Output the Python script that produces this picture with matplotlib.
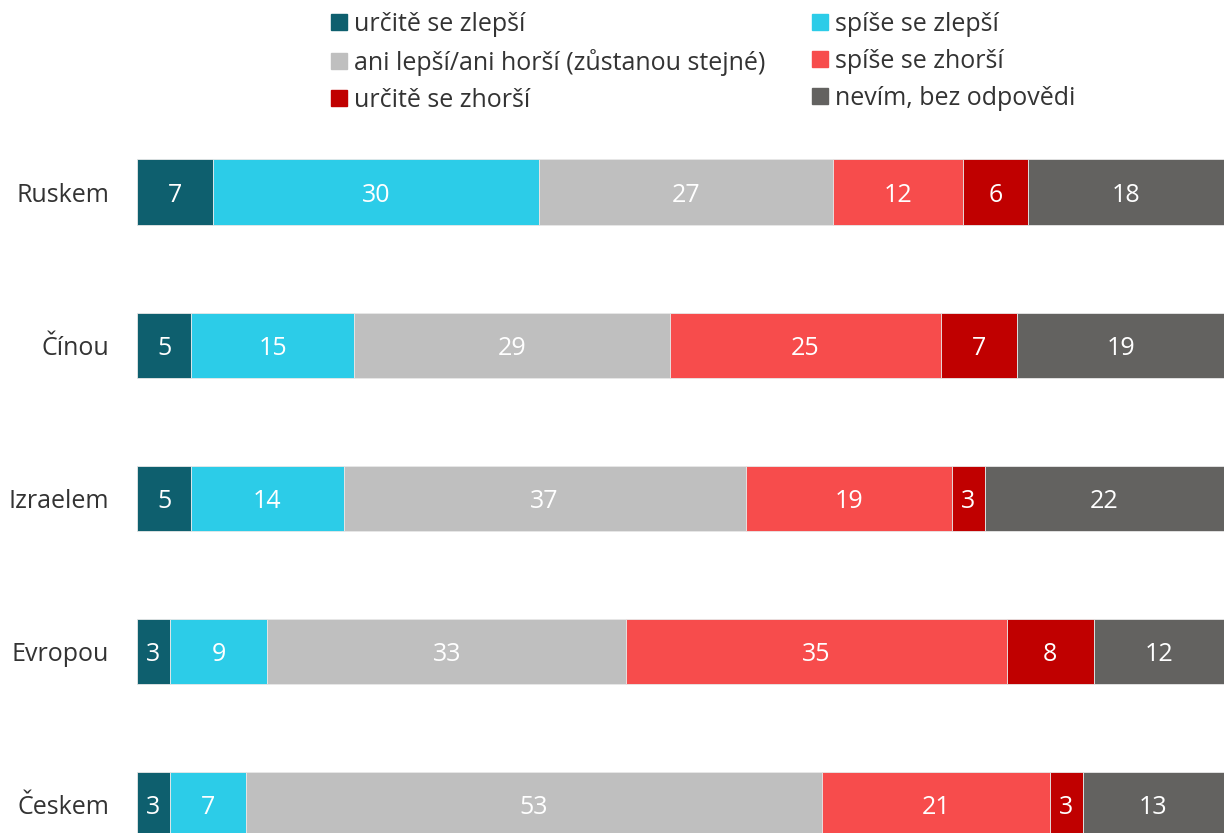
import matplotlib.pyplot as plt
import matplotlib.patches as mpatches
import numpy as np

plt.rcParams['font.family'] = ['Open Sans', 'DejaVu Sans']

# Data
zeme = ['Ruskem', 'Čínou', 'Izraelem', 'Evropou', 'Českem']
kategorie = ['určitě se zlepší', 'spíše se zlepší', 'ani lepší/ani horší (zůstanou stejné)',
             'spíše se zhorší', 'určitě se zhorší', 'nevím, bez odpovědi']
urcite_zlepsi = [7, 5, 5, 3, 3]
spise_zlepsi = [30, 15, 14, 9, 7]
ani_ani = [27, 29, 37, 33, 53]
spise_zhorsi = [12, 25, 19, 35, 21]
urcite_zhorsi = [6, 7, 3, 8, 3]
nevim = [18, 19, 22, 12, 13]
barvy = ['#0E5F6E', '#2CCCE8', '#BFBFBF', '#F74C4C', '#C00000', '#636260']

serie = [urcite_zlepsi, spise_zlepsi, ani_ani, spise_zhorsi, urcite_zhorsi, nevim]

fig = plt.figure(figsize=(12.24, 8.33), dpi=100)
ax = fig.add_axes([137 / 1224, 0, 1 - 137 / 1224, (833 - 120) / 833])

y = np.arange(len(zeme))
left = np.zeros(len(zeme))
handles = []
for vals, col, lab in zip(serie, barvy, kategorie):
    vals = np.array(vals, dtype=float)
    ax.barh(y, vals, left=left, height=0.425, color=col,
            edgecolor='#E8E8E8', linewidth=0.6, label=lab)
    for yi, l, v in zip(y, left, vals):
        ax.text(l + v / 2, yi, f'{int(v)}', ha='center', va='center_baseline',
                color='white', fontsize=18)
    left += vals
    handles.append(mpatches.Patch(color=col, label=lab))

ax.set_xlim(0, 100)
ax.set_ylim(4.183, -0.47)
ax.set_yticks(y)
ax.set_yticklabels(zeme, fontsize=18, color='#333333')
ax.tick_params(axis='y', length=0, pad=20)
ax.set_xticks([])
for s in ax.spines.values():
    s.set_visible(False)

# legenda po sloupcich
order = [0, 2, 4, 1, 3, 5]
leg = fig.legend([handles[i] for i in order], [kategorie[i] for i in order],
                 ncol=2, loc='upper left', bbox_to_anchor=(321 / 1224, 0.998),
                 frameon=False, fontsize=18, handlelength=0.62, handleheight=0.62,
                 handletextpad=0.3, labelspacing=0.48, columnspacing=1.88,
                 borderaxespad=0)
for t in leg.get_texts():
    t.set_color('#333333')

fig.savefig('out.png', dpi=100)
